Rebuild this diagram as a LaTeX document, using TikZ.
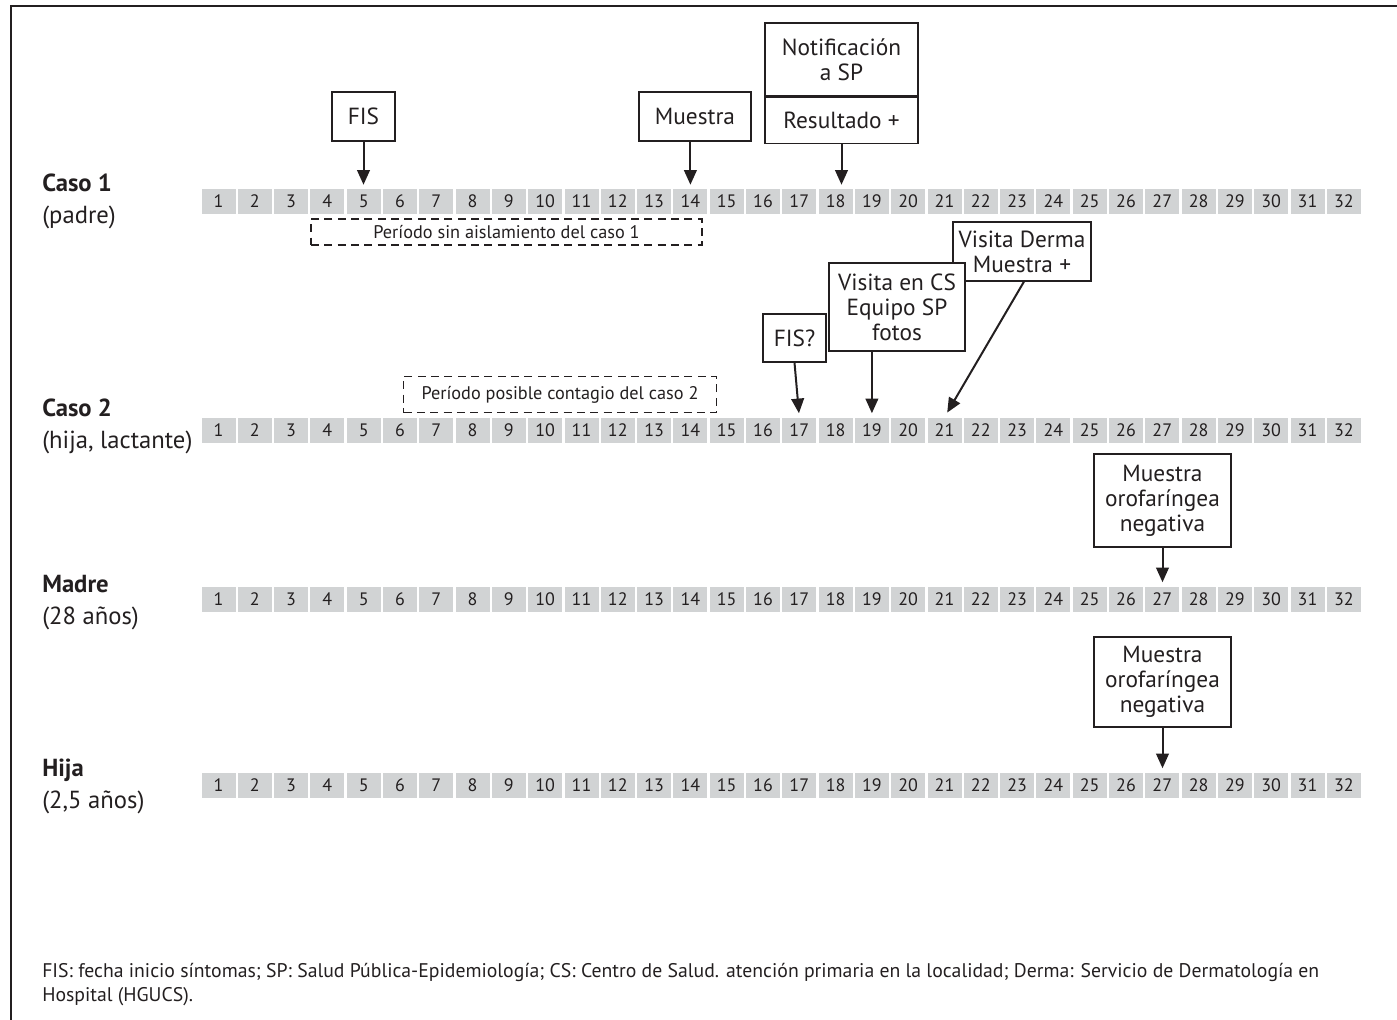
\documentclass[tikz,border=0pt]{standalone}
\usepackage{fontspec}
\setmainfont{PT Sans}
\usepackage{tikz}
\usetikzlibrary{arrows.meta, positioning}

\definecolor{cellgray}{RGB}{209,211,212}
\definecolor{inkblack}{RGB}{35,31,32}

\begin{document}
\begin{tikzpicture}[x=0.75pt, y=-0.75pt, inkblack,
    day/.style={fill=cellgray, minimum width=25.5pt, minimum height=18.75pt, inner sep=0pt,
      font=\fontsize{13.5}{15}\selectfont},
    caselabel/.style={anchor=west, align=left, inner sep=0pt, font=\fontsize{18.5}{24}\selectfont},
    evbox/.style={draw, fill=white, line width=0.9pt, align=center, inner sep=0pt,
      font=\fontsize{17.5}{18.75}\selectfont},
    periodbox/.style={draw, dash pattern=on 6pt off 4pt, line width=0.9pt, inner sep=0pt,
      font=\fontsize{13.7}{15}\selectfont},
    evarrow/.style={-{Triangle[length=11pt, width=9.5pt]}, line width=1.5pt, shorten >=3pt}]
    \useasboundingbox (0,0) rectangle (1397,1020);
    % frame
    \draw[line width=1.9pt] (11,1020) -- (11,6) -- (1397,6);

    % day cells of every timeline
    \foreach \r/\y in {1/201.5, 2/430, 3/599, 4/785} {
      \foreach \d in {1,...,32} {
        \node[day] (c\r-\d) at ({218.5+(\d-1)*36.3}, \y) {\d};
      }
    }

    % row labels
    \node[caselabel] (case1) at (42,201) {\textbf{Caso 1}\\(padre)};
    \node[caselabel] (case2) at (42,426) {\textbf{Caso 2}\\(hija, lactante)};
    \node[caselabel] (mother) at (42,603) {\textbf{Madre}\\(28 años)};
    \node[caselabel] (daughter) at (42,786) {\textbf{Hija}\\(2,5 años)};

    % events of case 1
    \node[evbox, minimum width=47.25pt, minimum height=36.75pt] (fis) at (363.5,116.5) {FIS};
    \node[evbox, minimum width=84pt, minimum height=36.75pt] (sample) at (695,116.5) {Muestra};
    \node[evbox, minimum width=114.75pt, minimum height=54.75pt] (notif) at (841.5,59.5) {Notificación\\a SP};
    \node[evbox, minimum width=114.75pt, minimum height=34.5pt, below=0pt of notif] (result) {Resultado +};
    \node[periodbox, minimum width=293.25pt, minimum height=19.5pt] (noiso) at (506.5,232) {Período sin aislamiento del caso 1};

    \draw[evarrow] (fis.south) -- (fis.south |- c1-5.north);
    \draw[evarrow] (c1-14.north |- sample.south) -- (c1-14.north);
    \draw[evarrow] (result.south) -- (result.south |- c1-18.north);

    % events of case 2
    \node[evbox, minimum width=103.5pt, minimum height=44.25pt] (derma) at (1022,251.5) {Visita Derma\\Muestra +};
    \node[evbox, minimum width=102pt, minimum height=66pt] (visitcs) at (897,307) {Visita en CS\\Equipo SP\\fotos};
    \node[evbox, minimum width=47.25pt, minimum height=36pt] (fisq) at (794.5,338) {FIS?};
    \node[periodbox, minimum width=234.75pt, minimum height=27pt] (contagion) at (560,394.5) {Período posible contagio del caso 2};

    \draw[evarrow] (fisq.south) -- (c2-17.north);
    \draw[evarrow] (c2-19.north |- visitcs.south) -- (c2-19.north);
    \draw[evarrow, shorten >=4pt] ([xshift=1.5pt]derma.south) -- (c2-21.north);

    % mother and daughter
    \node[evbox, minimum width=102.75pt, minimum height=69.75pt] (oromother) at (1162.5,500.5) {Muestra\\orofaríngea\\negativa};
    \node[evbox, minimum width=102.75pt, minimum height=67.5pt] (orodaughter) at (1162.5,682) {Muestra\\orofaríngea\\negativa};

    \draw[evarrow] (oromother.south) -- (oromother.south |- c3-27.north);
    \draw[evarrow] (orodaughter.south) -- (orodaughter.south |- c4-27.north);

    % footnote
    \node[anchor=north west, align=left, inner sep=0pt, font=\fontsize{14.8}{18}\selectfont] (note) at (42,963)
      {FIS: fecha inicio síntomas; SP: Salud Pública-Epidemiología; CS: Centro de Salud. atención primaria en la localidad; Derma: Servicio de Dermatología en\\Hospital (HGUCS).};
\end{tikzpicture}
\end{document}
